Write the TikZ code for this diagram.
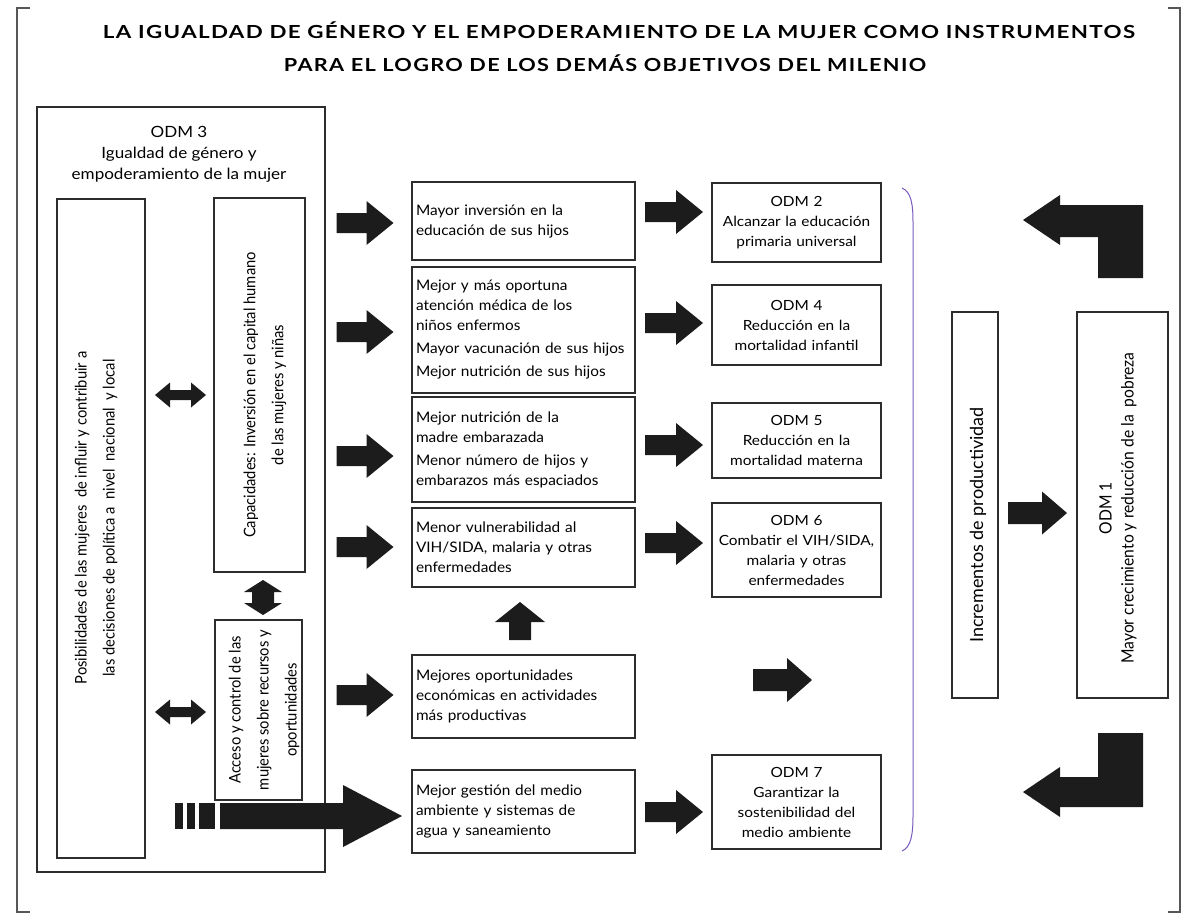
\documentclass[tikz,border=0pt]{standalone}
\usepackage{fontspec}
\usepackage{graphicx}
\setmainfont{Lato}
\newfontfamily\titlefont{Lato}[LetterSpace=6]
\newfontfamily\narrowfont{Lato}[FakeStretch=0.92]
\newfontfamily\bodyfont{Lato}[FakeStretch=1.06]
\newfontfamily\odmfont{Lato}[FakeStretch=1.1]
\definecolor{bracecol}{RGB}{120,90,190}
\definecolor{arrowcol}{RGB}{28,28,28}
\definecolor{linecol}{RGB}{45,45,45}
\newcommand\sarrow[7]{\fill[arrowfill,shift={(#1,#2)},rotate=#7] ({-#3/2},{-#4}) -- ({#3/2-#6},{-#4}) -- ({#3/2-#6},{-#5}) -- ({#3/2},0) -- ({#3/2-#6},{#5}) -- ({#3/2-#6},{#4}) -- ({-#3/2},{#4}) -- cycle;}
\newcommand\dblarrow[7]{\fill[arrowfill,shift={(#1,#2)},rotate=#7] ({-#3/2},0) -- ({-#3/2+#6},{#5}) -- ({-#3/2+#6},{#4}) -- ({#3/2-#6},{#4}) -- ({#3/2-#6},{#5}) -- ({#3/2},0) -- ({#3/2-#6},{-#5}) -- ({#3/2-#6},{-#4}) -- ({-#3/2+#6},{-#4}) -- ({-#3/2+#6},{-#5}) -- cycle;}
\tikzset{
  box/.style={draw=linecol, line width=1.2pt, inner sep=0pt},
  mbox/.style={box, minimum width=223pt, text width=215pt, align=left, font=\bodyfont\fontsize{14.5}{20}\selectfont},
  obox/.style={box, minimum width=169pt, text width=167pt, align=center, font=\odmfont\fontsize{14}{20}\selectfont},
  rtext/.style={rotate=90, align=center, inner sep=0pt, font=\narrowfont\fontsize{16}{28}\selectfont},
  arrowfill/.style={fill=arrowcol},
  frame/.style={draw=linecol!80, line width=1.2pt},
}
\begin{document}
\begin{tikzpicture}[x=1pt,y=-1pt]
\useasboundingbox (0,0) rectangle (1190,919);
% outer frame
\draw[frame] (30,8) -- (17,8) -- (17,912) -- (30,912);
\draw[frame] (1168,8) -- (1180,8) -- (1180,912) -- (1168,912);
% title
\node[inner sep=0pt] (t1) at (619,30) {\resizebox{1032pt}{\height}{\titlefont\bfseries\fontsize{18}{20}\selectfont LA IGUALDAD DE GÉNERO Y EL EMPODERAMIENTO DE LA MUJER COMO INSTRUMENTOS}};
\node[inner sep=0pt] (t2) at (605,63) {\resizebox{642pt}{\height}{\titlefont\bfseries\fontsize{18}{20}\selectfont PARA EL LOGRO DE LOS DEMÁS OBJETIVOS DEL MILENIO}};
% ODM 3 block
\node[box, minimum width=288pt, minimum height=765pt] (odm3) at (181,489.5) {};
\node[align=center, inner sep=0pt, font=\odmfont\fontsize{15.5}{21}\selectfont] (odm3t) at (179,154) {ODM 3\\Igualdad de género y\\empoderamiento de la mujer};
\node[box, minimum width=88pt, minimum height=659pt] (pos) at (101,528.5) {};
\node[rtext] (post) at (96,518) {Posibilidades de las mujeres\ \ de influir y contribuir a\\las decisiones de política a\ \ nivel\ \ nacional\ \ y local};
\node[box, minimum width=91pt, minimum height=374pt] (cap) at (259.5,385) {};
\node[rtext] (capt) at (265,395) {Capacidades: Inversión en el capital humano\\de las mujeres y niñas};
\node[box, minimum width=87pt, minimum height=180pt] (acc) at (258.5,710) {};
\node[rtext] (acct) at (264,710) {Acceso y control de las\\mujeres sobre recursos y\\oportunidades};
% middle boxes
\node[mbox, minimum height=78pt] (b1) at (523.5,221) {Mayor inversión en la\\educación de sus hijos};
\node[mbox, minimum height=126pt] (b2) at (523.5,330) {Mejor y más oportuna\\atención médica de los\\niños enfermos\\[3pt]Mayor vacunación de sus hijos\\[3pt]Mejor nutrición de sus hijos};
\node[mbox, minimum height=105pt] (b3) at (523.5,449.5) {Mejor nutrición de la\\madre embarazada\\[3pt]Menor número de hijos y\\embarazos más espaciados};
\node[mbox, minimum height=79pt] (b4) at (523.5,547.5) {Menor vulnerabilidad al\\VIH/SIDA, malaria y otras\\enfermedades};
\node[mbox, minimum height=83pt] (b5) at (523.5,696.5) {Mejores oportunidades\\económicas en actividades\\más productivas};
\node[mbox, minimum height=83pt] (b6) at (523.5,811.5) {Mejor gestión del medio\\ambiente y sistemas de\\agua y saneamiento};
% ODM boxes
\node[obox, minimum height=79pt] (o2) at (796.5,222.5) {ODM 2\\Alcanzar la educación\\primaria universal};
\node[obox, minimum height=80pt] (o4) at (796.5,325) {ODM 4\\Reducción en la\\mortalidad infantil};
\node[obox, minimum height=75pt] (o5) at (796.5,440.5) {ODM 5\\Reducción en la\\mortalidad materna};
\node[obox, minimum height=94pt] (o6) at (796.5,550) {ODM 6\\Combatir el VIH/SIDA,\\malaria y otras\\enfermedades};
\node[obox, minimum height=94pt] (o7) at (796.5,802) {ODM 7\\Garantizar la\\sostenibilidad del\\medio ambiente};
% right column
\node[box, minimum width=46pt, minimum height=386pt] (inc) at (975,505) {};
\node[rotate=90, inner sep=0pt, font=\fontsize{18}{20}\selectfont] (inct) at (978,525) {Incrementos de productividad};
\node[box, minimum width=91pt, minimum height=386pt] (odm1) at (1122.5,505) {};
\node[rtext, font=\narrowfont\fontsize{17}{22}\selectfont] (odm1t) at (1118,508) {ODM 1\\Mayor crecimiento y reducción de la\ \ pobreza};
% brace
\draw[bracecol, line width=1pt] (902,188) .. controls (911,192) and (913,203) .. (913,223) -- (913,815) .. controls (913,835) and (911,847) .. (902,851);
% arrows from ODM 3
\foreach \yy in {223,332,456,547,695} {\sarrow{365}{\yy}{57}{10}{22}{27}{0}}
% arrows to ODM boxes
\foreach \yy in {212,323,445,543,812} {\sarrow{674}{\yy}{58}{10}{22}{27}{0}}
\sarrow{520}{621}{38}{11}{25}{20}{90}
\sarrow{782.5}{680}{59}{11}{22}{25}{0}
\sarrow{1037.5}{513}{59}{11}{21.5}{25}{0}
% double arrows
\dblarrow{180.5}{395}{51}{5}{12.5}{15}{0}
\dblarrow{180.5}{712}{51}{5}{12.5}{15}{0}
\dblarrow{263}{597.5}{35}{11}{19}{12}{90}
% dashed big arrow
\fill[arrowfill] (175,803) rectangle (183,829);
\fill[arrowfill] (187,803) rectangle (195,829);
\fill[arrowfill] (199,803) rectangle (215,829);
\fill[arrowfill] (220,803) -- (343,803) -- (343,785) -- (402,816) -- (343,847) -- (343,829) -- (220,829) -- cycle;
% L-shaped arrows
\fill[arrowfill] (1023,220) -- (1060,195) -- (1060,205) -- (1143,205) -- (1143,278) -- (1098,278) -- (1098,237) -- (1060,237) -- (1060,245) -- cycle;
\fill[arrowfill] (1023,792) -- (1060,767) -- (1060,777) -- (1098,777) -- (1098,733) -- (1143,733) -- (1143,807) -- (1060,807) -- (1060,817) -- cycle;
\end{tikzpicture}
\end{document}
